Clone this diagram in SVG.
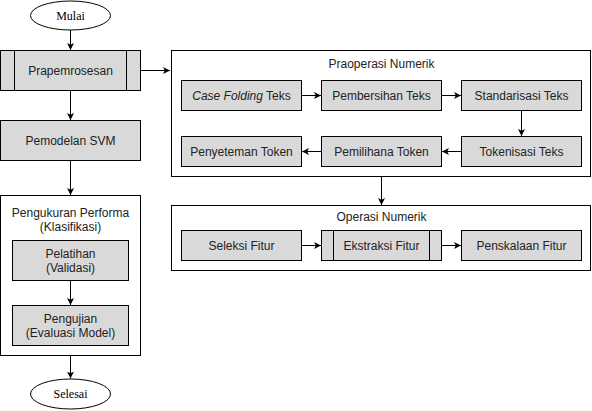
<svg xmlns="http://www.w3.org/2000/svg" width="592" height="411" viewBox="0 0 592 411">
<defs>
<marker id="ah" markerWidth="8" markerHeight="8" refX="7" refY="4" orient="auto" markerUnits="userSpaceOnUse">
<path d="M0,0.5 L7,4 L0,7.5 L1.8,4 Z" fill="#000"/>
</marker>
<style>
.box{fill:#d9d9d9;stroke:#000;stroke-width:1}
.cont{fill:#fff;stroke:#000;stroke-width:1}
.t{font-family:"Liberation Sans",Arial,sans-serif;font-size:12px;fill:#222;text-anchor:middle;dominant-baseline:central}
.s{font-family:"Liberation Serif","Times New Roman",serif;font-size:12px;fill:#000;text-anchor:middle;dominant-baseline:central}
.c{stroke:#000;stroke-width:1;fill:none;marker-end:url(#ah)}
</style>
</defs>
<rect width="592" height="411" fill="#fff"/>

<g id="mulai"><ellipse cx="70.5" cy="15.5" rx="40" ry="14.5" class="cont"/><text class="s" x="70.5" y="15.5">Mulai</text></g>
<g id="prapemrosesan"><rect x="0.5" y="50.5" width="140" height="40" class="box"/><line x1="14.5" y1="50.5" x2="14.5" y2="90.5" stroke="#000"/><line x1="126.5" y1="50.5" x2="126.5" y2="90.5" stroke="#000"/><text class="t" x="70.5" y="70.5">Prapemrosesan</text></g>
<g id="pemodelan"><rect x="0.5" y="120.5" width="140" height="40" class="box"/><text class="t" x="70.5" y="140.5">Pemodelan SVM</text></g>
<g id="pengukuran"><rect x="0.5" y="195.5" width="140" height="160" class="cont"/><text class="t" x="70.5" y="212.5">Pengukuran Performa</text><text class="t" x="70.5" y="226.5">(Klasifikasi)</text></g>
<g id="pelatihan"><rect x="12.5" y="240.5" width="116" height="40" class="box"/><text class="t" x="70.5" y="253.5">Pelatihan</text><text class="t" x="70.5" y="267.5">(Validasi)</text></g>
<g id="pengujian"><rect x="12.5" y="305.5" width="116" height="40" class="box"/><text class="t" x="70.5" y="318.5">Pengujian</text><text class="t" x="70.5" y="332.5">(Evaluasi Model)</text></g>
<g id="selesai"><ellipse cx="70.5" cy="394" rx="40" ry="15" class="cont"/><text class="s" x="70.5" y="394">Selesai</text></g>

<g id="praoperasi"><rect x="171.5" y="50.5" width="419" height="126" class="cont"/><text class="t" x="381.5" y="63.5">Praoperasi Numerik</text></g>
<g id="casefolding"><rect x="181.5" y="80.5" width="120" height="30" class="box"/><text class="t" x="241.5" y="95.5"><tspan font-style="italic">Case Folding</tspan> Teks</text></g>
<g id="pembersihan"><rect x="321.5" y="80.5" width="120" height="30" class="box"/><text class="t" x="381.5" y="95.5">Pembersihan Teks</text></g>
<g id="standarisasi"><rect x="461.5" y="80.5" width="120" height="30" class="box"/><text class="t" x="521.5" y="95.5">Standarisasi Teks</text></g>
<g id="tokenisasi"><rect x="461.5" y="136.5" width="120" height="30" class="box"/><text class="t" x="521.5" y="151.5">Tokenisasi Teks</text></g>
<g id="pemilihana"><rect x="321.5" y="136.5" width="120" height="30" class="box"/><text class="t" x="381.5" y="151.5">Pemilihana Token</text></g>
<g id="penyeteman"><rect x="181.5" y="136.5" width="120" height="30" class="box"/><text class="t" x="241.5" y="151.5">Penyeteman Token</text></g>

<g id="operasi"><rect x="171.5" y="205.5" width="419" height="65" class="cont"/><text class="t" x="381.5" y="216.5">Operasi Numerik</text></g>
<g id="seleksi"><rect x="181.5" y="230.5" width="120" height="30" class="box"/><text class="t" x="241.5" y="245.5">Seleksi Fitur</text></g>
<g id="ekstraksi"><rect x="321.5" y="230.5" width="120" height="30" class="box"/><line x1="333.5" y1="230.5" x2="333.5" y2="260.5" stroke="#000"/><line x1="429.5" y1="230.5" x2="429.5" y2="260.5" stroke="#000"/><text class="t" x="381.5" y="245.5">Ekstraksi Fitur</text></g>
<g id="penskalaan"><rect x="461.5" y="230.5" width="120" height="30" class="box"/><text class="t" x="521.5" y="245.5">Penskalaan Fitur</text></g>

<g id="connectors">
<line class="c" x1="70.5" y1="30" x2="70.5" y2="50"/>
<line class="c" x1="70.5" y1="90.5" x2="70.5" y2="120"/>
<line class="c" x1="70.5" y1="160.5" x2="70.5" y2="195"/>
<line class="c" x1="70.5" y1="280.5" x2="70.5" y2="305"/>
<line class="c" x1="70.5" y1="355.5" x2="70.5" y2="378.5"/>
<line class="c" x1="140.5" y1="70.5" x2="170" y2="70.5"/>
<line class="c" x1="301.5" y1="95.5" x2="321" y2="95.5"/>
<line class="c" x1="441.5" y1="95.5" x2="461" y2="95.5"/>
<line class="c" x1="521.5" y1="110.5" x2="521.5" y2="136"/>
<line class="c" x1="461.5" y1="151.5" x2="442" y2="151.5"/>
<line class="c" x1="321.5" y1="151.5" x2="302" y2="151.5"/>
<line class="c" x1="381.5" y1="176.5" x2="381.5" y2="205"/>
<line class="c" x1="301.5" y1="245.5" x2="321" y2="245.5"/>
<line class="c" x1="441.5" y1="245.5" x2="461" y2="245.5"/>
</g>
</svg>
